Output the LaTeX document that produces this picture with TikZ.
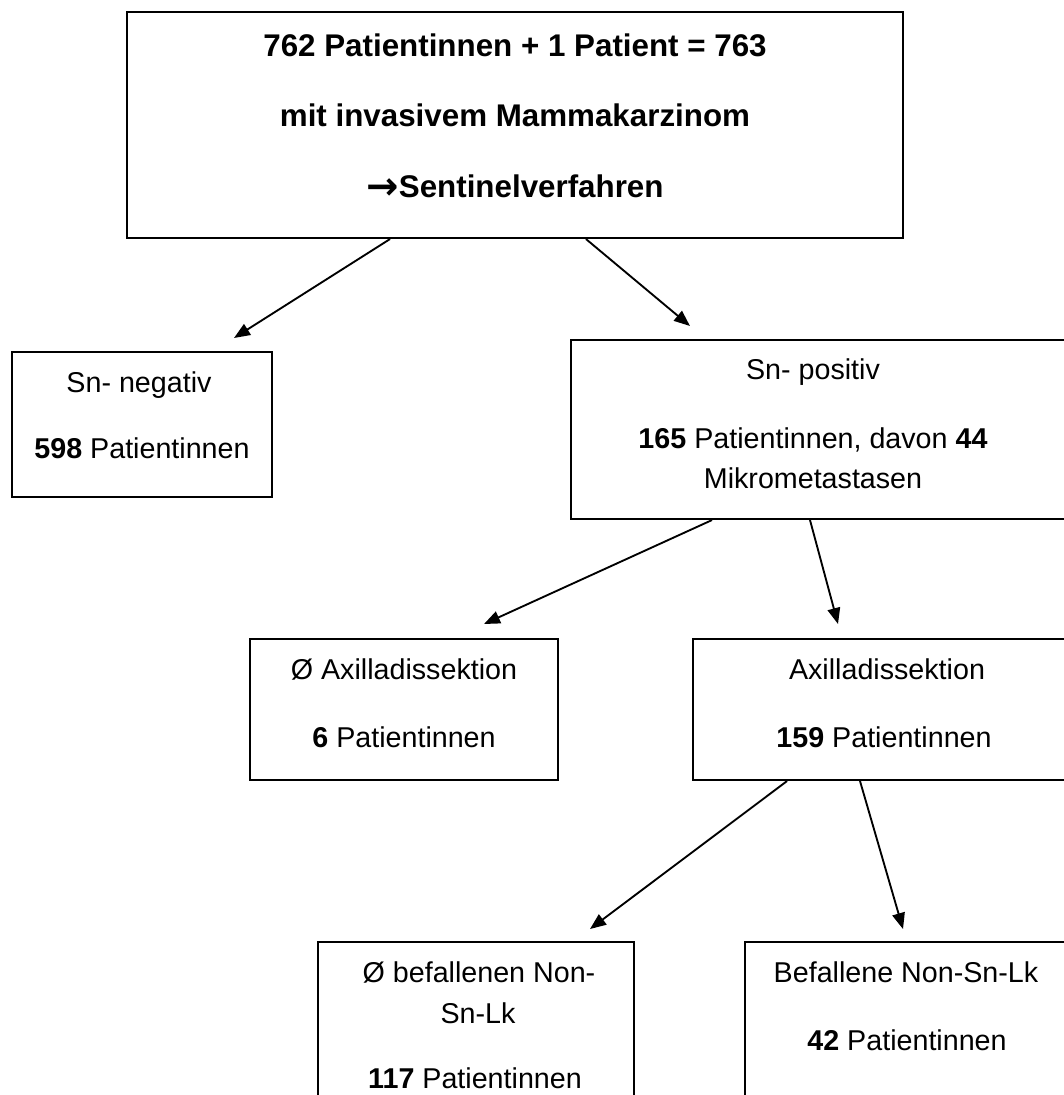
\documentclass[tikz,border=0pt]{standalone}
\usepackage{fontspec}
\setmainfont{Liberation Sans}
\newfontfamily\arrowfont{DejaVu Sans}
\usetikzlibrary{arrows.meta}
\tikzset{
  box/.style={draw=black, line width=1.6pt, rectangle, inner sep=0pt},
  txt/.style={inner sep=0pt, font=\fontsize{21.5pt}{24pt}\selectfont},
  ttl/.style={inner sep=0pt, font=\fontsize{23.5pt}{26pt}\selectfont\bfseries},
  arr/.style={line width=1.4pt, -{Triangle[length=12pt,width=9.5pt]}}
}
\begin{document}
\begin{tikzpicture}[x=0.75pt,y=-0.75pt]
\useasboundingbox (0,0) rectangle (1063,1095);
% boxes
\node[box, minimum width=776*0.75pt, minimum height=226*0.75pt] (top) at (515,125) {};
\node[box, minimum width=260*0.75pt, minimum height=145*0.75pt] (sneg) at (142,424.5) {};
\node[box, minimum width=510*0.75pt, minimum height=179*0.75pt] (spos) at (826,429.5) {};
\node[box, minimum width=308*0.75pt, minimum height=141*0.75pt] (noax) at (404,709.5) {};
\node[box, minimum width=390*0.75pt, minimum height=141*0.75pt] (ax) at (888,709.5) {};
\node[box, minimum width=316*0.75pt, minimum height=180*0.75pt] (nobef) at (476,1032) {};
\node[box, minimum width=340*0.75pt, minimum height=180*0.75pt] (bef) at (915,1032) {};
% texts
\node[ttl] (t1a) at (515,45) {762 Patientinnen + 1 Patient = 763};
\node[ttl] (t1b) at (515,115) {mit invasivem Mammakarzinom};
\node[ttl] (t1c) at (515,187) {\raisebox{-1pt}{\fontsize{29pt}{30pt}\selectfont\arrowfont\bfseries →}Sentinelverfahren};
\node[txt] (t2a) at (139,385) {Sn- negativ};
\node[txt] (t2b) at (142,448) {\textbf{598} Patientinnen};
\node[txt] (t3a) at (813,372) {Sn- positiv};
\node[txt] (t3b) at (813,440) {\textbf{165} Patientinnen, davon \textbf{44}};
\node[txt] (t3c) at (813,478) {Mikrometastasen};
\node[txt] (t4a) at (404,669) {Ø Axilladissektion};
\node[txt] (t4b) at (404,737) {\textbf{6} Patientinnen};
\node[txt] (t5a) at (887,669) {Axilladissektion};
\node[txt] (t5b) at (884,737) {\textbf{159} Patientinnen};
\node[txt] (t6a) at (479,972) {Ø befallenen Non-};
\node[txt] (t6b) at (478,1013) {Sn-Lk};
\node[txt] (t6c) at (475,1078) {\textbf{117} Patientinnen};
\node[txt] (t7a) at (906,972) {Befallene Non-Sn-Lk};
\node[txt] (t7b) at (907,1040) {\textbf{42} Patientinnen};
% arrow tips
\coordinate (e1) at (234,338);
\coordinate (e2) at (690,326);
\coordinate (e3) at (484,624);
\coordinate (e4) at (838,624);
\coordinate (e5) at (590,929);
\coordinate (e6) at (903,929);
% connectors
\draw[arr] (top.south -| 390,0) -- (e1);
\draw[arr] (top.south -| 586,0) -- (e2);
\draw[arr] (spos.south -| 712,0) -- (e3);
\draw[arr] (spos.south -| 810,0) -- (e4);
\draw[arr] (ax.south -| 787,0) -- (e5);
\draw[arr] (ax.south -| 860,0) -- (e6);
\end{tikzpicture}
\end{document}
